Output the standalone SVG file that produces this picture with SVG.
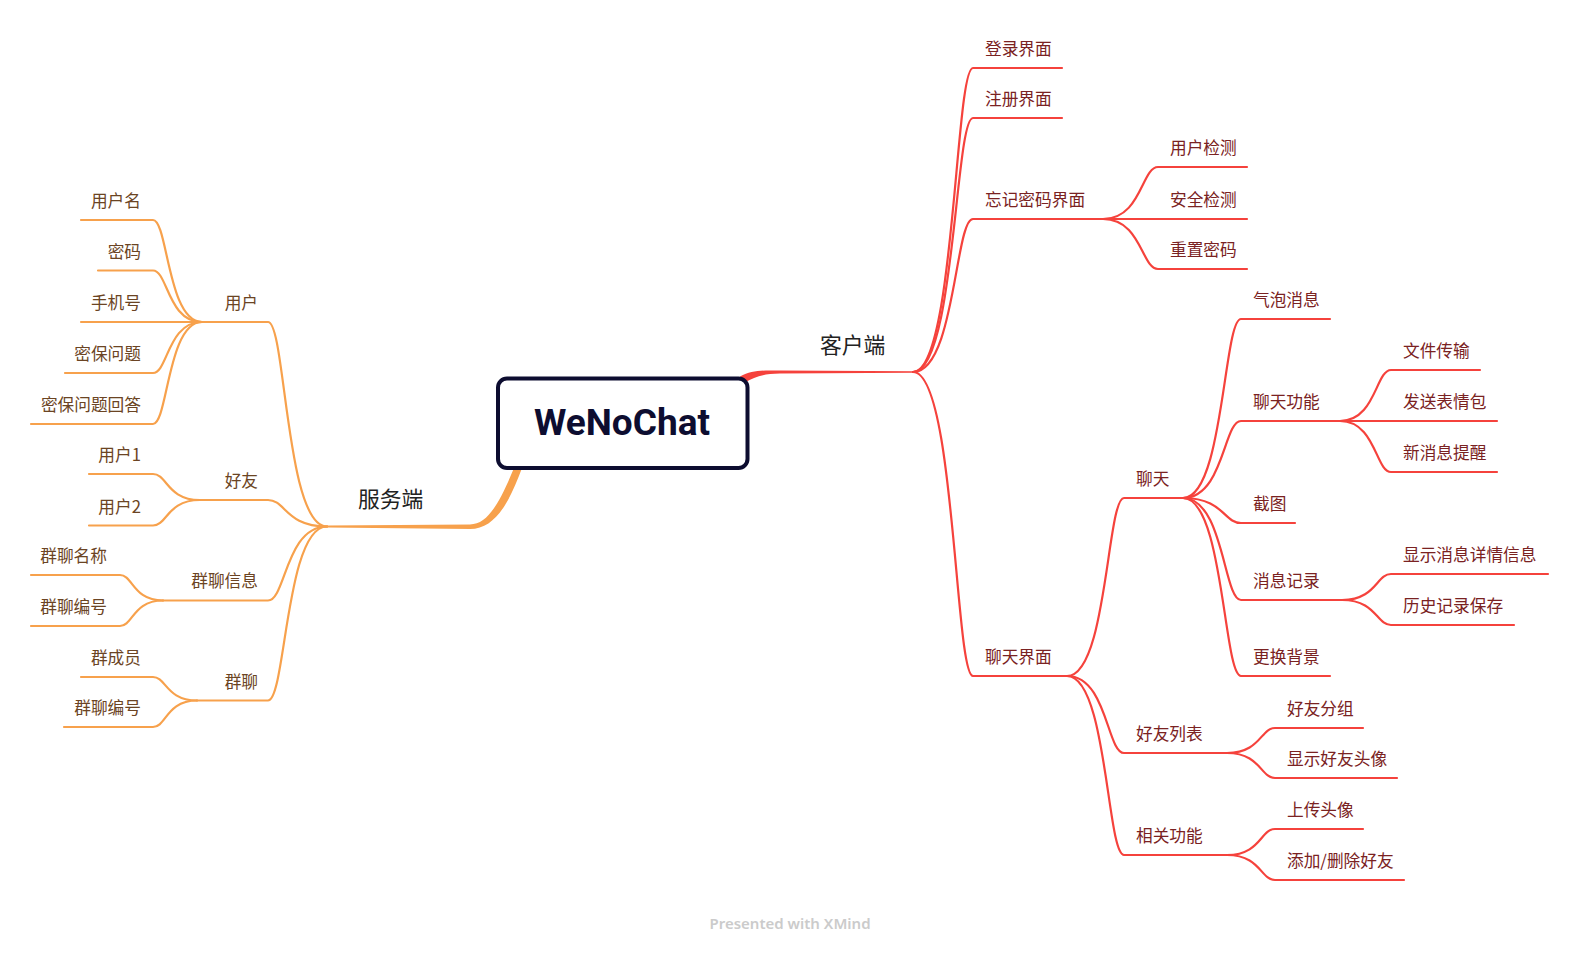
<svg xmlns="http://www.w3.org/2000/svg" width="1579" height="955" viewBox="0 0 1579 955">
<style>
.r{fill:none;stroke:#f5423c;stroke-width:2.2;stroke-linecap:round}
.o{fill:none;stroke:#f7a14c;stroke-width:2.2;stroke-linecap:round}
.tr{font-family:"Noto Sans CJK SC","Noto Sans",sans-serif;font-size:16.7px;fill:#7a2222}
.tl{font-family:"Noto Sans CJK SC","Noto Sans",sans-serif;font-size:16.7px;fill:#6b4423;text-anchor:end}
.main{font-family:"Noto Sans CJK SC","Noto Sans",sans-serif;font-size:21.8px;fill:#222}
</style>
<rect width="1579" height="955" fill="#fff"/>
<g id="connectors">
<path d="M740 376.5 C752 370 762 370.3 780 370.6 L913 371.3 L913 372.7 L780 373.6 C764 373.8 755 376.5 745 382.5 Z" fill="#f5423c"/>
<path d="M327 525.4 L470 524.4 C489 524.4 501 499 514 468 L522 468 C509 503 495 529 470 529 L327 527.6 Z" fill="#f7a14c"/>
<path class="r" d="M913 372 C955 372 955 68 973 68 L1062 68"/>
<path class="r" d="M913 372 C955 372 955 118 973 118 L1062 118"/>
<path class="r" d="M913 372 C955 372 955 219 973 219 L1103 219"/>
<path class="r" d="M913 372 C955 372 955 676 973 676 L1067 676"/>
<path class="r" d="M1103 219 C1141.5 219 1141.5 167 1158 167 L1247 167"/>
<path class="r" d="M1103 219 L1247 219"/>
<path class="r" d="M1103 219 C1141.5 219 1141.5 269 1158 269 L1247 269"/>
<path class="r" d="M1067 676 C1107 676 1107 498 1124 498 L1183 498"/>
<path class="r" d="M1067 676 C1107 676 1107 753 1124 753 L1227 753"/>
<path class="r" d="M1067 676 C1107 676 1107 855 1124 855 L1227 855"/>
<path class="r" d="M1183 498 C1223.6 498 1223.6 319 1241 319 L1330 319"/>
<path class="r" d="M1183 498 C1223.6 498 1223.6 421 1241 421 L1340 421"/>
<path class="r" d="M1183 498 C1223.6 498 1223.6 523 1241 523 L1295 523"/>
<path class="r" d="M1183 498 C1223.6 498 1223.6 600 1241 600 L1342 600"/>
<path class="r" d="M1183 498 C1223.6 498 1223.6 676 1241 676 L1330 676"/>
<path class="r" d="M1340 421 C1375.7 421 1375.7 370 1391 370 L1480 370"/>
<path class="r" d="M1340 421 L1497 421"/>
<path class="r" d="M1340 421 C1375.7 421 1375.7 472 1391 472 L1497 472"/>
<path class="r" d="M1342 600 C1376.3 600 1376.3 574 1391 574 L1548 574"/>
<path class="r" d="M1342 600 C1376.3 600 1376.3 625 1391 625 L1514 625"/>
<path class="r" d="M1227 753 C1260.6 753 1260.6 728 1275 728 L1363 728"/>
<path class="r" d="M1227 753 C1260.6 753 1260.6 778 1275 778 L1397 778"/>
<path class="r" d="M1227 855 C1260.6 855 1260.6 829 1275 829 L1363 829"/>
<path class="r" d="M1227 855 C1260.6 855 1260.6 880 1275 880 L1404 880"/>
<path class="o" d="M327 526.5 C285.7 526.5 285.7 322 268 322 L202 322"/>
<path class="o" d="M327 526.5 C285.7 526.5 285.7 500 268 500 L200 500"/>
<path class="o" d="M327 526.5 C285.7 526.5 285.7 600.5 268 600.5 L163 600.5"/>
<path class="o" d="M327 526.5 C285.7 526.5 285.7 700.5 268 700.5 L197 700.5"/>
<path class="o" d="M202 322 C167.7 322 167.7 220 153 220 L81 220"/>
<path class="o" d="M202 322 C167.7 322 167.7 270.5 153 270.5 L98 270.5"/>
<path class="o" d="M202 322 L81 322"/>
<path class="o" d="M202 322 C167.7 322 167.7 373 153 373 L65 373"/>
<path class="o" d="M202 322 C167.7 322 167.7 424 153 424 L31 424"/>
<path class="o" d="M200 500 C167.1 500 167.1 474 153 474 L89 474"/>
<path class="o" d="M200 500 C167.1 500 167.1 525.5 153 525.5 L89 525.5"/>
<path class="o" d="M163 600.5 C132.9 600.5 132.9 575 120 575 L31 575"/>
<path class="o" d="M163 600.5 C132.9 600.5 132.9 626 120 626 L31 626"/>
<path class="o" d="M197 700.5 C166.2 700.5 166.2 677 153 677 L81 677"/>
<path class="o" d="M197 700.5 C166.2 700.5 166.2 727 153 727 L64 727"/>
</g>
<g id="root">
<rect x="498" y="378.5" width="249.5" height="89.5" rx="9" fill="#fff" stroke="#0d0d30" stroke-width="4"/>
<text x="622" y="435" text-anchor="middle" font-family="Roboto,'Liberation Sans',sans-serif" font-weight="bold" font-size="37" fill="#0d0d30">WeNoChat</text>
</g>
<g id="client"><text class="main" x="820" y="353">客户端</text></g>
<g id="server"><text class="main" x="358" y="506.5">服务端</text></g>
<g id="login"><text class="tr" x="985" y="55">登录界面</text></g>
<g id="register"><text class="tr" x="985" y="105">注册界面</text></g>
<g id="forgot"><text class="tr" x="985" y="206">忘记密码界面</text></g>
<g id="chatui"><text class="tr" x="985" y="663">聊天界面</text></g>
<g id="usercheck"><text class="tr" x="1170" y="154">用户检测</text></g>
<g id="safecheck"><text class="tr" x="1170" y="206">安全检测</text></g>
<g id="resetpw"><text class="tr" x="1170" y="256">重置密码</text></g>
<g id="chat"><text class="tr" x="1136" y="485">聊天</text></g>
<g id="friendlist"><text class="tr" x="1136" y="740">好友列表</text></g>
<g id="related"><text class="tr" x="1136" y="842">相关功能</text></g>
<g id="bubble"><text class="tr" x="1253" y="306">气泡消息</text></g>
<g id="chatfunc"><text class="tr" x="1253" y="408">聊天功能</text></g>
<g id="screenshot"><text class="tr" x="1253" y="510">截图</text></g>
<g id="msglog"><text class="tr" x="1253" y="587">消息记录</text></g>
<g id="bg"><text class="tr" x="1253" y="663">更换背景</text></g>
<g id="file"><text class="tr" x="1403" y="357">文件传输</text></g>
<g id="emoji"><text class="tr" x="1403" y="408">发送表情包</text></g>
<g id="notify"><text class="tr" x="1403" y="459">新消息提醒</text></g>
<g id="detail"><text class="tr" x="1403" y="561">显示消息详情信息</text></g>
<g id="history"><text class="tr" x="1403" y="612">历史记录保存</text></g>
<g id="group"><text class="tr" x="1287" y="715">好友分组</text></g>
<g id="avatar"><text class="tr" x="1287" y="765">显示好友头像</text></g>
<g id="upload"><text class="tr" x="1287" y="816">上传头像</text></g>
<g id="addfriend"><text class="tr" x="1287" y="867">添加/删除好友</text></g>
<g id="user"><text class="tl" x="258" y="309">用户</text></g>
<g id="friend"><text class="tl" x="258" y="487">好友</text></g>
<g id="groupinfo"><text class="tl" x="258" y="587">群聊信息</text></g>
<g id="groupchat"><text class="tl" x="258" y="687.5">群聊</text></g>
<g id="username"><text class="tl" x="141" y="207">用户名</text></g>
<g id="password"><text class="tl" x="141" y="257.5">密码</text></g>
<g id="phone"><text class="tl" x="141" y="309">手机号</text></g>
<g id="secq"><text class="tl" x="141" y="360">密保问题</text></g>
<g id="seca"><text class="tl" x="141" y="411">密保问题回答</text></g>
<g id="user1"><text class="tl" x="141" y="461">用户1</text></g>
<g id="user2"><text class="tl" x="141" y="512.5">用户2</text></g>
<g id="gname"><text class="tl" x="107" y="562">群聊名称</text></g>
<g id="gid1"><text class="tl" x="107" y="613">群聊编号</text></g>
<g id="gmember"><text class="tl" x="141" y="664">群成员</text></g>
<g id="gid2"><text class="tl" x="141" y="714">群聊编号</text></g>
<text x="790" y="929" text-anchor="middle" font-family="'Noto Sans',sans-serif" font-weight="600" font-size="15" fill="#cbcbcb">Presented with XMind</text>
</svg>
